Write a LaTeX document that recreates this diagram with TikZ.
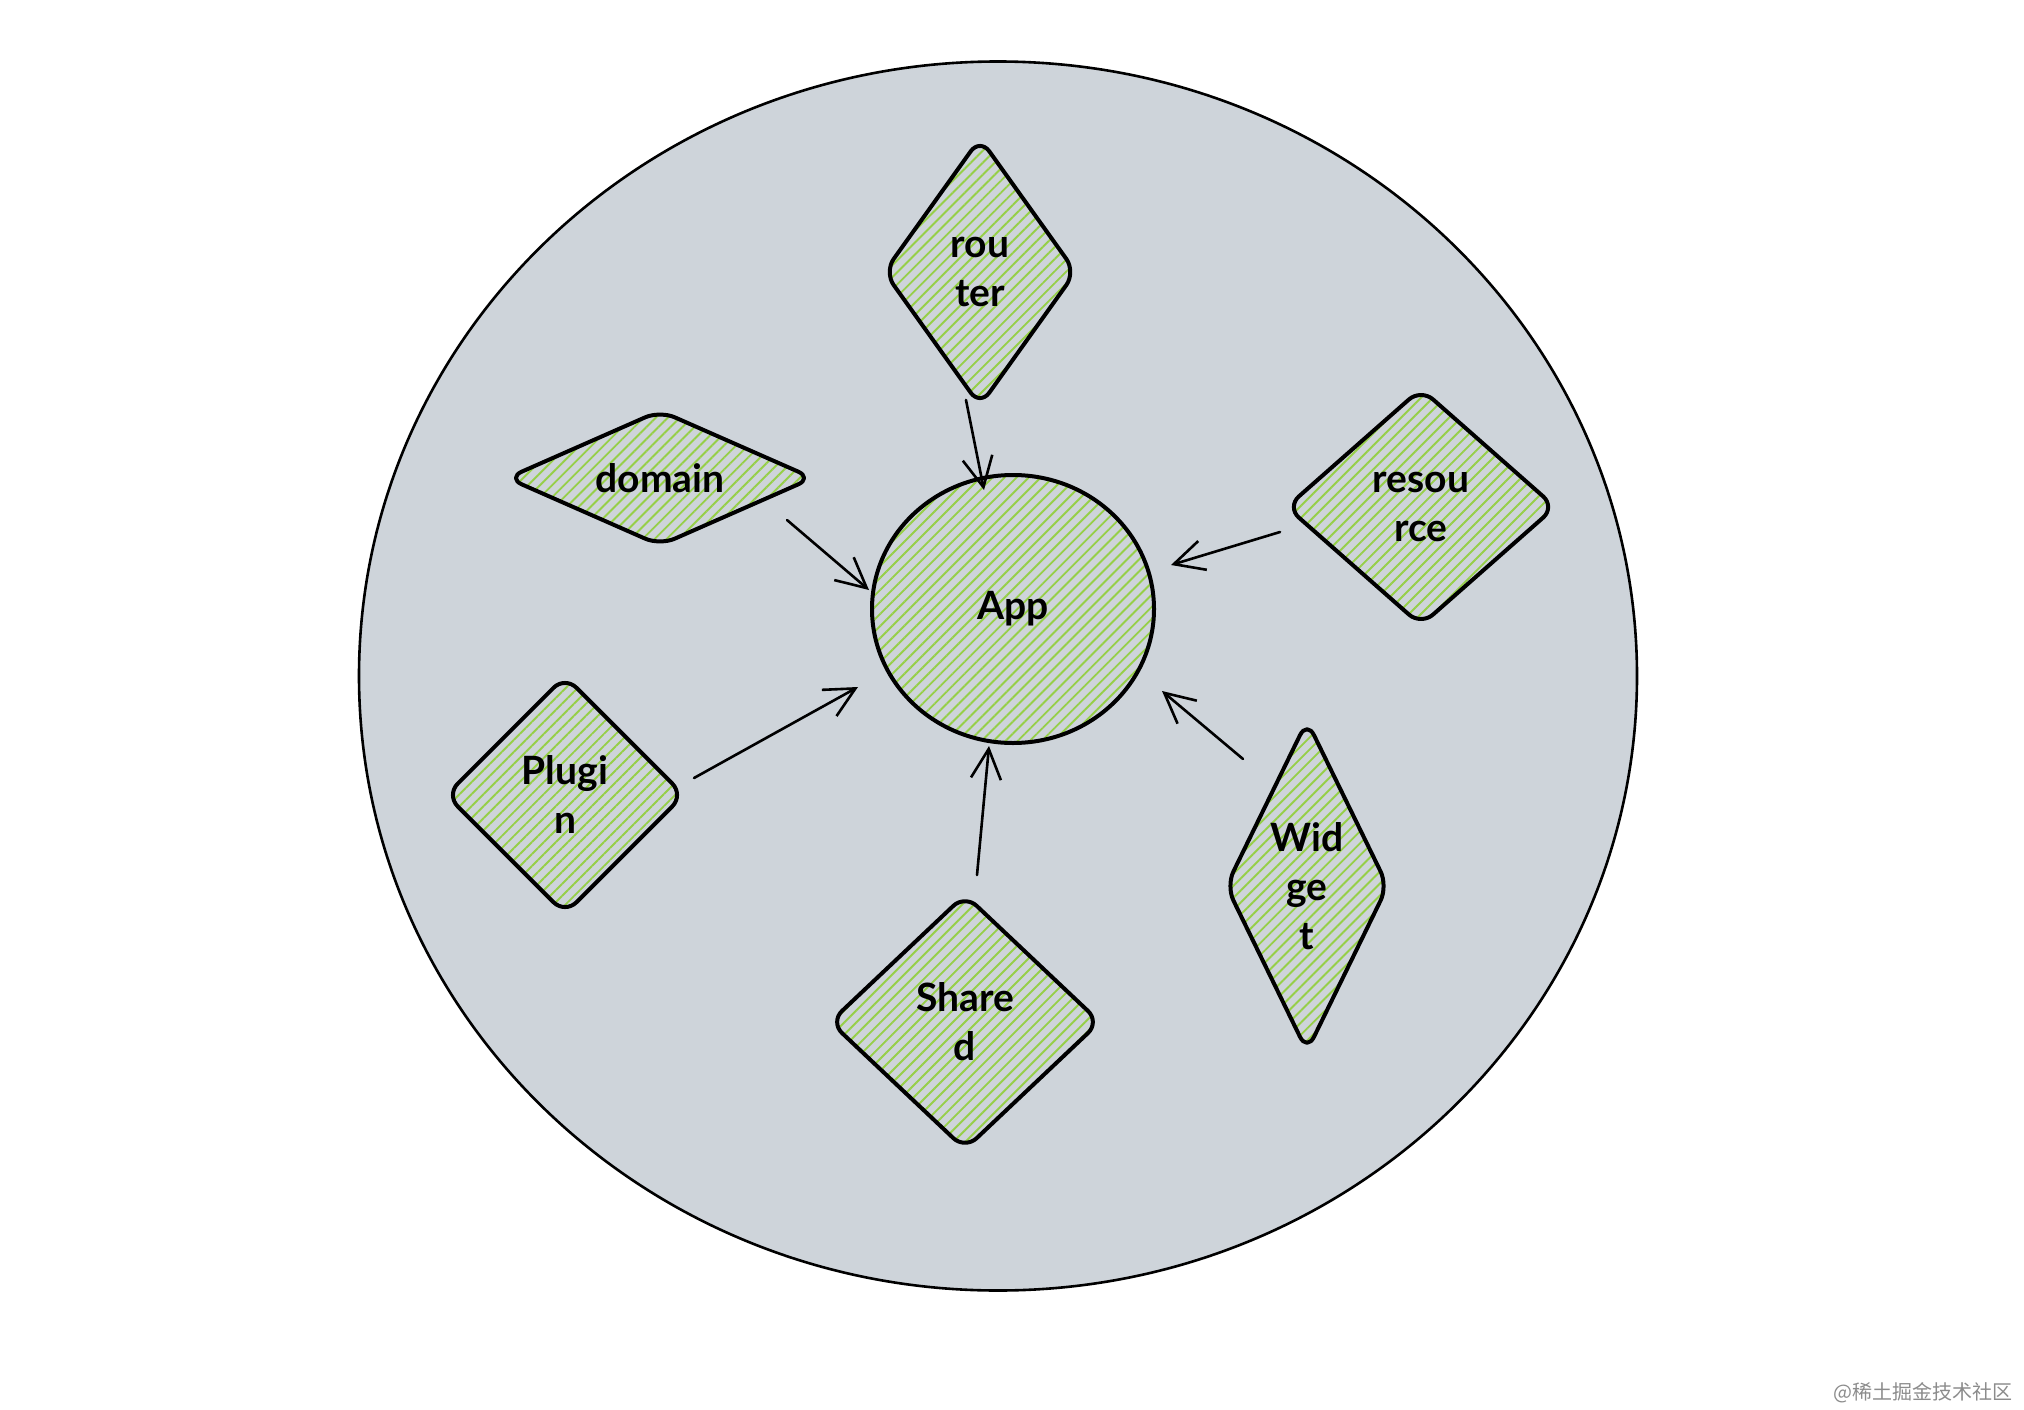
\documentclass[tikz,border=0pt]{standalone}
\usepackage{fontspec}
\setmainfont{Lato}
\newfontfamily\cjk{Noto Sans CJK SC}
\usetikzlibrary{shapes.geometric,arrows.meta,patterns.meta,calc}
\definecolor{bggray}{HTML}{CED4DA}
\definecolor{hatch}{HTML}{96CF48}
\begin{document}
\begin{tikzpicture}[x=1pt,y=-1pt,
  hatched/.style={pattern={Lines[angle=45,distance=8.5pt,line width=1.9pt]}, pattern color=hatch},
  dia/.style={diamond, draw=black, line width=4pt, rounded corners=16pt, inner sep=0pt, line join=round, hatched},
  lbl/.style={font=\bfseries\fontsize{39}{49}\selectfont, align=center, text=black},
  arr/.style={line width=2.6pt, -{Straight Barb[length=30pt,width=30pt]}, line cap=round, line join=round}]
\fill[white] (0,0) rectangle (2024,1410);
\useasboundingbox (0,0) rectangle (2024,1410);
% board
\node[ellipse, fill=bggray, draw=black, line width=2.6pt, minimum width=1278pt, minimum height=1229pt] (board) at (998,676) {};
% center
\node[ellipse, draw=black, line width=4pt, minimum width=282pt, minimum height=268pt, hatched] (App) at (1013,609) {};
\node[lbl] (tApp) at (App) {App};
% diamonds
\node[dia, minimum width=193pt, minimum height=269pt] (router) at (980,272) {};
\node[lbl] (trouter) at (router) {rou\\ter};
\node[dia, minimum width=307pt, minimum height=136pt] (domain) at (660,478) {};
\node[lbl] (tdomain) at (domain) {domain};
\node[dia, minimum width=270pt, minimum height=238pt] (resource) at (1421,507) {};
\node[lbl] (tresource) at (resource) {resou\\rce};
\node[dia, minimum width=239pt, minimum height=239pt] (Plugin) at (565,795) {};
\node[lbl] (tPlugin) at (Plugin) {Plugi\\n};
\node[dia, minimum width=271pt, minimum height=256pt] (Shared) at (965,1022) {};
\node[lbl] (tShared) at (Shared) {Share\\d};
\node[dia, minimum width=163pt, minimum height=332pt] (Widget) at (1307,886) {};
\node[lbl] (tWidget) at (Widget) {Wid\\ge\\t};
% arrows
\draw[arr] ($(router)+(-14,128)$) -- ($(App)+(-29,-119)$);
\draw[arr] ($(domain)+(127,42)$) -- ($(App)+(-144,-19)$);
\draw[arr] ($(resource)+(-141,25)$) -- ($(App)+(158,-44)$);
\draw[arr] ($(Plugin)+(129,-17)$) -- ($(App)+(-155,78)$);
\draw[arr] ($(Shared)+(12,-147)$) -- ($(App)+(-24,137)$);
\draw[arr] ($(Widget)+(-64,-127)$) -- ($(App)+(149,82)$);
% watermark
\node[anchor=east, text=black!45, font=\cjk\fontsize{20}{24}\selectfont, inner sep=0pt] (wm) at (2013,1393) {@稀土掘金技术社区};
\end{tikzpicture}
\end{document}
